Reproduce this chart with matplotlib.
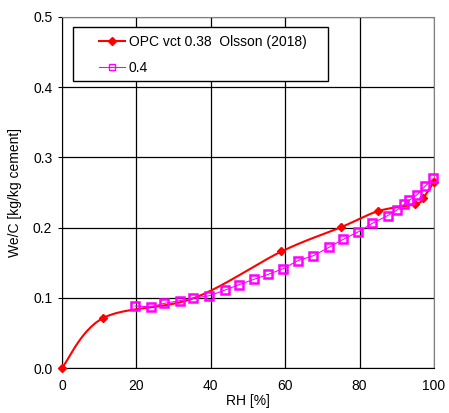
import numpy as np
import matplotlib
matplotlib.use('Agg')
import matplotlib.pyplot as plt
from matplotlib.patches import Rectangle

plt.rcParams['font.family'] = ['Liberation Sans', 'DejaVu Sans']

# OPC vct 0.38, Olsson (2018)
rh_opc = [0, 11, 35.3, 59, 75, 85, 95, 97, 100]
wc_opc = [0.0, 0.071, 0.0993, 0.166, 0.2005, 0.2235, 0.2335, 0.2415, 0.265]
opc_marked = [0, 1, 3, 4, 5, 6, 7, 8]  # point at 35 sits under a square

# 0.4
rh_04 = [19.6, 23.9, 27.4, 31.7, 35.3, 39.6, 43.8, 47.6, 51.7, 55.5, 59.5,
         63.4, 67.6, 71.8, 75.6, 79.7, 83.4, 87.5, 90.0, 91.9, 93.4, 95.5,
         97.6, 99.8]
wc_04 = [0.0883, 0.0873, 0.092, 0.0959, 0.0993, 0.103, 0.111, 0.1187, 0.1265,
         0.1335, 0.1415, 0.153, 0.160, 0.172, 0.1833, 0.1942, 0.206, 0.217,
         0.225, 0.233, 0.239, 0.247, 0.259, 0.270]

xticks = [0, 20, 40, 60, 80, 100]
yticks = [0.0, 0.1, 0.2, 0.3, 0.4, 0.5]


def smooth(x, y, n=30):
    # excel style smoothed line (bezier through the points)
    x = np.asarray(x, float)
    y = np.asarray(y, float)
    px = np.concatenate([[x[0]], x, [x[-1]]])
    py = np.concatenate([[y[0]], y, [y[-1]]])
    xs, ys = [], []
    t = np.linspace(0, 1, n)
    for i in range(1, len(px) - 2):
        p0, p1, p2, p3 = px[i-1], px[i], px[i+1], px[i+2]
        q0, q1, q2, q3 = py[i-1], py[i], py[i+1], py[i+2]
        c1x, c1y = p1 + (p2 - p0) / 6, q1 + (q2 - q0) / 6
        c2x, c2y = p2 - (p3 - p1) / 6, q2 - (q3 - q1) / 6
        bx = (1-t)**3*p1 + 3*(1-t)**2*t*c1x + 3*(1-t)*t**2*c2x + t**3*p2
        by = (1-t)**3*q1 + 3*(1-t)**2*t*c1y + 3*(1-t)*t**2*c2y + t**3*q2
        xs.extend(bx)
        ys.extend(by)
    return np.array(xs), np.array(ys)


fig = plt.figure(figsize=(4.49, 4.13), dpi=100)
ax = fig.add_axes([62/449, 45/413, 372/449, 351/413])

sx, sy = smooth(rh_opc, wc_opc)
ax.plot(sx, sy, color='#ff0000', lw=1.5, clip_on=False, zorder=3)
ax.plot(rh_opc, wc_opc, ls='none', marker='D', ms=4, color='#ff0000',
        markevery=opc_marked, clip_on=False, zorder=3)
ax.plot(rh_04, wc_04, color='#ff00ff', lw=0.8, marker='s', ms=5.5, mfc='none',
        mec='#ff00ff', mew=1.8, clip_on=False, zorder=4)

# legend box drawn separately so the padding matches
ax.add_patch(Rectangle((11/372, 1 - 81/351 + 17/351), 255/372, 54/351,
                       transform=ax.transAxes, fill=True, fc='white',
                       ec='black', lw=1.0, zorder=5))
h1, = ax.plot([], [], color='#ff0000', lw=1.5, marker='D', ms=4)
h2, = ax.plot([], [], color='#ff00ff', lw=0.8, marker='s', ms=4.5, mfc='none',
              mew=1.0)
leg = ax.legend([h1, h2], ['OPC vct 0.38  Olsson (2018)', '0.4'],
                loc='upper left', bbox_to_anchor=(37/372, 1 - 18/351),
                fontsize=10, frameon=False, borderpad=0, labelspacing=0.85,
                handlelength=1.9, handletextpad=0.25, borderaxespad=0)
leg.set_zorder(6)

ax.set_xlim(0, 100)
ax.set_ylim(0, 0.5)
ax.set_xticks(xticks)
ax.set_yticks(yticks)
ax.set_yticklabels(['%.1f' % v for v in yticks])
ax.grid(True, color='black', lw=0.9)
ax.set_axisbelow(True)
ax.tick_params(axis='x', length=0, labelsize=10, pad=8)
ax.tick_params(axis='y', length=3, labelsize=10, pad=4)
for s in ['top', 'right']:
    ax.spines[s].set_color('#808080')
ax.set_xlabel('RH [%]', fontsize=10, labelpad=1)
ax.set_ylabel('We/C [kg/kg cement]', fontsize=10, labelpad=8)

fig.savefig('out.png', dpi=100)
